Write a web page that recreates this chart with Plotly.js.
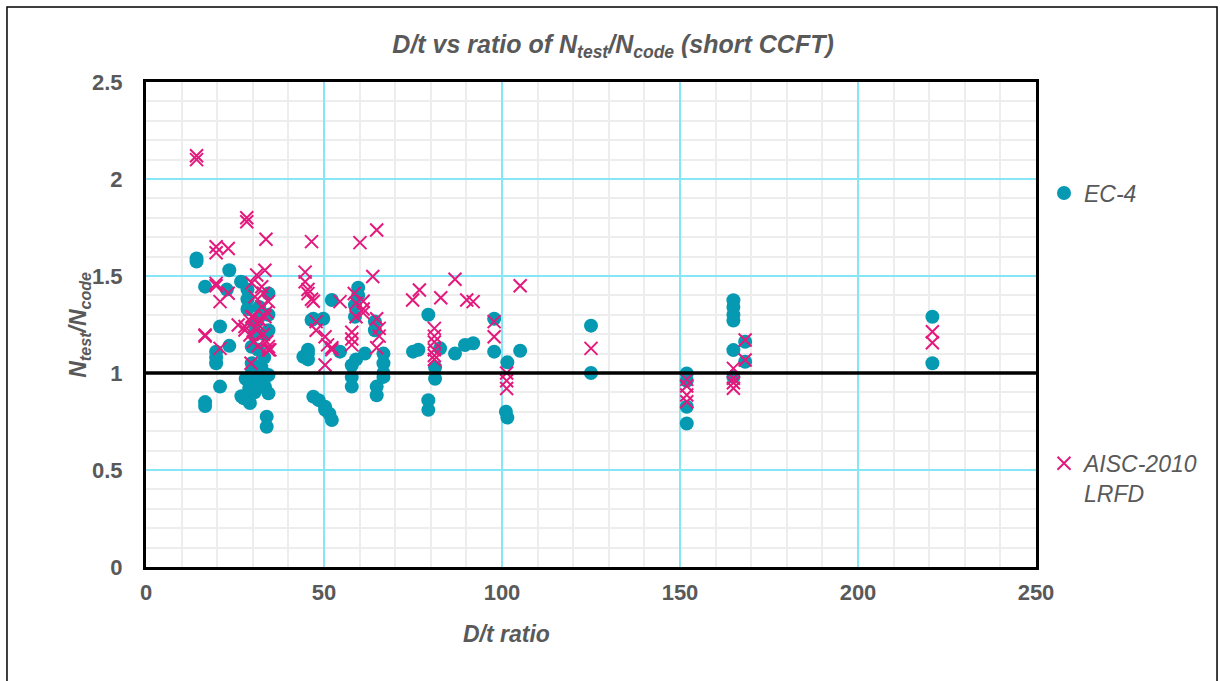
<!DOCTYPE html>
<html>
<head>
<meta charset="utf-8">
<script src="https://cdn.plot.ly/plotly-3.0.1.min.js"></script>
<style>
  html, body { margin: 0; padding: 0; background: #ffffff; }
  #chart { width: 1220px; height: 681px; }
</style>
</head>
<body>
<div id="chart"></div>
<script>
// EC-4 predictions: D/t ratio and Ntest/Ncode
const ec4DT = [
  14.2, 14.2, 16.6, 16.6, 16.6, 19.7, 19.7, 19.7, 20.8, 20.8,
  22.7, 23.4, 23.4, 26.7, 26.8, 27.5, 28.5, 28.5, 28.5, 28.7,
  29.2, 29.7, 29.7, 29.7, 30.5, 30.5, 30.5, 30.5, 31.5, 31.5,
  31.5, 32.4, 32.4, 33.4, 33.4, 34.4, 34.4, 34.4, 34.4, 34.4,
  33.9, 33.9, 30.0, 31.0, 32.0, 33.0, 29.0, 28.0, 31.8, 33.2,
  44.2, 45.5, 45.5, 45.5, 46.5, 47.0, 47.0, 48.5, 49.8, 50.3,
  50.3, 51.5, 52.2, 52.2, 54.5, 57.8, 57.8, 57.8, 58.7, 58.7,
  59.6, 59.6, 59.0, 61.5, 64.3, 64.3, 64.8, 64.8, 66.7, 66.7,
  66.7, 66.7, 75.0, 76.5, 79.3, 79.3, 79.3, 81.2, 81.2, 82.6,
  86.8, 89.6, 91.9, 97.8, 97.8, 101.5, 101.5, 101.1, 105.1, 125.0,
  125.0, 151.9, 151.9, 151.9, 151.9, 165.0, 165.0, 165.0, 165.0, 165.0,
  165.0, 168.3, 168.3, 220.9, 220.9
];
const ec4Ratio = [
  1.59, 1.575, 1.445, 0.85, 0.83, 1.11, 1.08, 1.05, 1.24, 0.93,
  1.43, 1.53, 1.14, 1.47, 0.88, 0.87, 1.43, 1.38, 1.33, 0.96,
  0.845, 1.135, 1.05, 1.00, 0.99, 0.90, 1.25, 1.20, 0.97, 1.12,
  1.28, 0.95, 1.03, 1.20, 0.93, 1.41, 1.22, 0.99, 0.895, 1.30,
  0.775, 0.723, 0.94, 0.92, 0.98, 0.96, 0.92, 0.97, 1.34, 1.08,
  1.084, 1.07, 1.10, 1.12, 1.273, 0.878, 1.28, 0.86, 1.28, 0.826,
  0.81, 0.79, 1.376, 0.758, 1.11, 1.04, 0.98, 0.93, 1.29, 1.35,
  1.44, 1.40, 1.07, 1.10, 1.265, 1.22, 0.93, 0.885, 1.10, 1.05,
  1.00, 0.98, 1.11, 1.12, 1.30, 0.86, 0.81, 1.03, 0.97, 1.127,
  1.10, 1.144, 1.153, 1.28, 1.11, 1.055, 0.77, 0.80, 1.115, 1.244,
  1.00, 0.998, 0.96, 0.826, 0.74, 1.375, 1.34, 1.30, 1.27, 1.118,
  0.98, 1.161, 1.058, 1.29, 1.05
];

// AISC-2010 LRFD predictions: D/t ratio and Ntest/Ncode
const aiscDT = [
  14.2, 14.2, 16.6, 16.6, 19.7, 19.7, 19.7, 19.7, 20.8, 20.8,
  23.1, 23.1, 25.9, 27.8, 27.8, 28.3, 28.3, 29.2, 29.2, 29.5,
  29.7, 29.7, 30.1, 30.1, 30.6, 31.1, 31.1, 31.5, 31.5, 32.0,
  32.5, 32.5, 33.0, 33.0, 33.4, 33.4, 33.7, 33.9, 33.9, 34.4,
  34.4, 34.4, 34.8, 44.7, 44.7, 45.5, 45.5, 46.5, 46.5, 47.0,
  47.8, 47.8, 50.3, 50.3, 51.0, 52.2, 52.2, 54.5, 57.8, 57.8,
  57.8, 58.5, 59.0, 59.0, 60.1, 61.0, 61.0, 61.0, 63.7, 64.8,
  64.8, 64.8, 65.5, 65.5, 74.9, 76.8, 81.0, 81.0, 81.0, 81.0,
  81.0, 81.0, 82.8, 86.8, 90.1, 91.9, 97.8, 97.8, 101.3, 101.3,
  101.3, 105.1, 125.0, 151.9, 151.9, 151.9, 151.9, 165.0, 165.0, 165.0,
  165.0, 168.3, 168.3, 220.9, 220.9
];
const aiscRatio = [
  2.12, 2.10, 1.196, 1.19, 1.651, 1.62, 1.462, 1.45, 1.368, 1.127,
  1.642, 1.411, 1.247, 1.222, 1.24, 1.80, 1.78, 1.196, 1.27, 1.05,
  1.464, 1.29, 1.29, 1.16, 1.393, 1.505, 1.22, 1.25, 1.14, 1.273,
  1.445, 1.342, 1.411, 1.20, 1.53, 1.29, 1.689, 1.316, 1.161, 1.368,
  1.136, 1.12, 1.119, 1.52, 1.47, 1.43, 1.41, 1.677, 1.38, 1.37,
  1.265, 1.22, 1.187, 1.041, 1.145, 1.12, 1.13, 1.368, 1.21, 1.175,
  1.145, 1.41, 1.36, 1.29, 1.672, 1.37, 1.33, 1.31, 1.497, 1.737,
  1.28, 1.13, 1.23, 1.19, 1.376, 1.428, 1.23, 1.19, 1.16, 1.12,
  1.09, 1.07, 1.388, 1.483, 1.376, 1.368, 1.265, 1.187, 1.00, 0.96,
  0.92, 1.45, 1.127, 0.967, 0.933, 0.887, 0.852, 1.024, 0.973, 0.95,
  0.921, 1.17, 1.067, 1.213, 1.156
];

const xTickVals = [0, 50, 100, 150, 200, 250];
const yTickVals = [0, 0.5, 1, 1.5, 2, 2.5];
const yTickText = ['0', '0.5', '1', '1.5', '2', '2.5'];
const unityLine = [1, 1];
const unityLineX = [0, 250];

const grey = '#595959';
const font = 'Liberation Sans, Arial, sans-serif';

const traces = [
  {
    type: 'scatter', mode: 'markers', name: 'EC-4',
    x: ec4DT, y: ec4Ratio, legend: 'legend',
    marker: { symbol: 'circle', size: 14, color: '#0599B2' },
    cliponaxis: true
  },
  {
    type: 'scatter', mode: 'markers', name: 'AISC-2010<br>LRFD',
    x: aiscDT, y: aiscRatio, legend: 'legend2',
    marker: { symbol: 'x-thin-open', size: 13, color: '#E3197D',
              line: { color: '#E3197D', width: 2 } },
    cliponaxis: true
  }
];

const layout = {
  width: 1220, height: 681,
  paper_bgcolor: '#ffffff', plot_bgcolor: '#ffffff',
  margin: { l: 146, r: 184, t: 82, b: 114 },
  font: { family: font, color: grey },
  title: {
    text: '<b><i>D/t vs ratio of N<sub>test</sub>/N<sub>code</sub> (short CCFT)</i></b>',
    font: { size: 25, color: grey, family: font },
    x: 0.5025, xanchor: 'center', y: 0.935, yanchor: 'middle'
  },
  xaxis: {
    range: [0, 250], tickvals: xTickVals, ticks: '',
    tickfont: { size: 22, color: grey, family: font, weight: 'bold' },
    showgrid: true, gridcolor: '#86E6F6', gridwidth: 1.5,
    minor: { dtick: 10, showgrid: true, gridcolor: '#EDEDED', gridwidth: 2 },
    showline: true, linecolor: '#000000', linewidth: 3, mirror: true,
    zeroline: false, ticklabelstandoff: 4
  },
  yaxis: {
    range: [0, 2.5], tickvals: yTickVals, ticktext: yTickText, ticks: '',
    tickfont: { size: 22, color: grey, family: font, weight: 'bold' },
    showgrid: true, gridcolor: '#86E6F6', gridwidth: 1.5,
    minor: { dtick: 0.1, showgrid: true, gridcolor: '#EDEDED', gridwidth: 2 },
    showline: true, linecolor: '#000000', linewidth: 3, mirror: true,
    zeroline: false, ticklabelstandoff: 16
  },
  showlegend: true,
  legend: {
    x: 1.009, y: 0.771, xanchor: 'left', yanchor: 'middle',
    font: { size: 23, color: grey, family: font, style: 'italic' },
    bgcolor: 'rgba(0,0,0,0)', itemwidth: 30
  },
  legend2: {
    x: 1.009, y: 0.258, xanchor: 'left', yanchor: 'top', valign: 'top',
    font: { size: 23, color: grey, family: font, style: 'italic' },
    bgcolor: 'rgba(0,0,0,0)', itemwidth: 30
  },
  annotations: [
    {
      text: '<b><i>D/t ratio</i></b>', xref: 'paper', yref: 'paper',
      x: (506 - 146) / 890, y: -0.138, xanchor: 'center', yanchor: 'middle',
      showarrow: false, font: { size: 23, color: grey, family: font }
    },
    {
      text: '<b><i>N<sub>test</sub>/N<sub>code</sub></i></b>', xref: 'paper', yref: 'paper',
      x: -0.075, y: 0.50, xanchor: 'center', yanchor: 'middle', textangle: -90,
      showarrow: false, font: { size: 23, color: grey, family: font }
    }
  ],
  shapes: [
    {
      type: 'rect', xref: 'paper', yref: 'paper',
      x0: -0.1562, x1: 1.2034, y0: -0.30, y1: 1.1546,
      line: { color: '#000000', width: 1.5 }, layer: 'below'
    }
  ]
};

// unity reference line drawn above the markers
traces.push({
  type: 'scatter', mode: 'lines', x: unityLineX, y: unityLine,
  line: { color: '#000000', width: 3.5 }, showlegend: false, hoverinfo: 'skip'
});

Plotly.newPlot('chart', traces, layout, { displayModeBar: false, staticPlot: true });
</script>
</body>
</html>
